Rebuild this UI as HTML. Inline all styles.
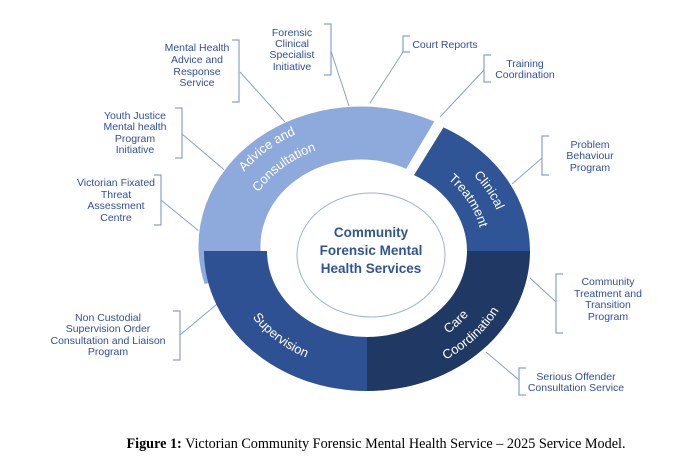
<!DOCTYPE html>
<html><head><meta charset="utf-8"><style>
html,body{margin:0;padding:0;background:#fff;}
svg{display:block;}
.l{font-family:"Liberation Sans",sans-serif;font-size:10.5px;fill:#2f4f9f;text-anchor:middle;}
.r{font-family:"Liberation Sans",sans-serif;font-size:13px;fill:#fff;text-anchor:middle;}
.ln{stroke:#8aa0c8;stroke-width:1;fill:none;}
.br{stroke:#8aa0c8;stroke-width:1.2;fill:none;}
</style></head><body>
<svg width="688" height="461" viewBox="0 0 688 461" xmlns="http://www.w3.org/2000/svg">
<defs>
<path id="p1" d="M216.2,239.5 A145,125 0 0 1 368.6,121.2"/>
<path id="p2" d="M241.2,240.6 A120,103 0 0 1 367.3,143.1"/>
<path id="p3" d="M407.3,137.2 A138,119 0 0 1 499,285.8"/>
<path id="p4" d="M400.9,155.4 A116,100 0 0 1 477.9,280.2"/>
<path id="p5" d="M375.8,358.7 A126,108 0 0 0 492.7,243.5"/>
<path id="p6" d="M377.4,378.7 A149,128 0 0 0 515.6,242.1"/>
<path id="p7" d="M229.1,255.2 A138,119 0 0 0 371.8,369.9"/>
</defs>
<line class="ln" x1="240" y1="72" x2="285" y2="122"/>
<line class="ln" x1="331" y1="51" x2="349" y2="106"/>
<line class="ln" x1="182" y1="134" x2="228" y2="173"/>
<line class="ln" x1="161" y1="200" x2="205" y2="236"/>
<line class="ln" x1="403" y1="52" x2="370" y2="103"/>
<line class="ln" x1="484" y1="70" x2="440" y2="117"/>
<line class="ln" x1="542" y1="158" x2="512" y2="184"/>
<line class="ln" x1="556" y1="302" x2="530" y2="278"/>
<line class="ln" x1="519" y1="380" x2="486" y2="352"/>
<line class="ln" x1="180" y1="335" x2="222" y2="300"/>
<path class="br" d="M232,40 H239 V102 H232"/>
<path class="br" d="M324,24 H331 V75 H324"/>
<path class="br" d="M175,108 H182 V158 H175"/>
<path class="br" d="M154,175 H161 V225 H154"/>
<path class="br" d="M173,311 H180 V360 H173"/>
<path class="br" d="M410,36 H403 V52 H410"/>
<path class="br" d="M491,55 H484 V82 H491"/>
<path class="br" d="M549,136 H542 V175 H549"/>
<path class="br" d="M563,274 H556 V333 H563"/>
<path class="br" d="M526,368 H519 V395 H526"/>
<path d="M204.3,284.6 A163,140 0 0 1 435,121.3 L406.4,169.4 A100,86 0 0 0 264.9,269.7 Z" fill="#8eaadc" stroke="#fff" stroke-width="1"/>
<path d="M443.5,127.4 A163,140 0 0 1 530,251 L467,251 A100,86 0 0 0 414,175.1 Z" fill="#2f5597"/>
<path d="M530,251 A163,140 0 0 1 367,391 L367,337 A100,86 0 0 0 467,251 Z" fill="#1f3864"/>
<path d="M367,391 A163,140 0 0 1 204,251 L267,251 A100,86 0 0 0 367,337 Z" fill="#2e5194"/>
<ellipse cx="371" cy="255" rx="74" ry="62" fill="#fff" stroke="#9fb2d6" stroke-width="1"/>
<text class="r"><textPath href="#p1" startOffset="50%">Advice and</textPath></text>
<text class="r"><textPath href="#p2" startOffset="50%">Consultation</textPath></text>
<text class="r"><textPath href="#p3" startOffset="50%">Clinical</textPath></text>
<text class="r"><textPath href="#p4" startOffset="50%">Treatment</textPath></text>
<text class="r"><textPath href="#p5" startOffset="50%">Care</textPath></text>
<text class="r"><textPath href="#p6" startOffset="50%">Coordination</textPath></text>
<text class="r"><textPath href="#p7" startOffset="50%">Supervision</textPath></text>
<g font-family="Liberation Sans, sans-serif" font-size="13.5" font-weight="bold" fill="#2f5597" text-anchor="middle">
<text x="371" y="237">Community</text>
<text x="371" y="255">Forensic Mental</text>
<text x="371" y="273">Health Services</text>
</g>
<text class="l" x="197" y="51">Mental Health</text>
<text class="l" x="197" y="63">Advice and</text>
<text class="l" x="197" y="75">Response</text>
<text class="l" x="197" y="86">Service</text>
<text class="l" x="292" y="36">Forensic</text>
<text class="l" x="292" y="47">Clinical</text>
<text class="l" x="292" y="58">Specialist</text>
<text class="l" x="292" y="70">Initiative</text>
<text class="l" x="135" y="119">Youth Justice</text>
<text class="l" x="135" y="130">Mental health</text>
<text class="l" x="135" y="142">Program</text>
<text class="l" x="135" y="153">Initiative</text>
<text class="l" x="116" y="186">Victorian Fixated</text>
<text class="l" x="116" y="198">Threat</text>
<text class="l" x="116" y="209">Assessment</text>
<text class="l" x="116" y="221">Centre</text>
<text class="l" x="108" y="321">Non Custodial</text>
<text class="l" x="108" y="332">Supervision Order</text>
<text class="l" x="108" y="344">Consultation and Liaison</text>
<text class="l" x="108" y="355">Program</text>
<text class="l" x="445" y="48">Court Reports</text>
<text class="l" x="525" y="67">Training</text>
<text class="l" x="525" y="78">Coordination</text>
<text class="l" x="590" y="148">Problem</text>
<text class="l" x="590" y="159">Behaviour</text>
<text class="l" x="590" y="171">Program</text>
<text class="l" x="608" y="285">Community</text>
<text class="l" x="608" y="297">Treatment and</text>
<text class="l" x="608" y="308">Transition</text>
<text class="l" x="608" y="320">Program</text>
<text class="l" x="576" y="380">Serious Offender</text>
<text class="l" x="576" y="391">Consultation Service</text>
<text x="376" y="448" font-family="Liberation Serif, serif" font-size="14.2" fill="#000" text-anchor="middle"><tspan font-weight="bold">Figure 1:</tspan> Victorian Community Forensic Mental Health Service – 2025 Service Model.</text>
</svg>
</body></html>
